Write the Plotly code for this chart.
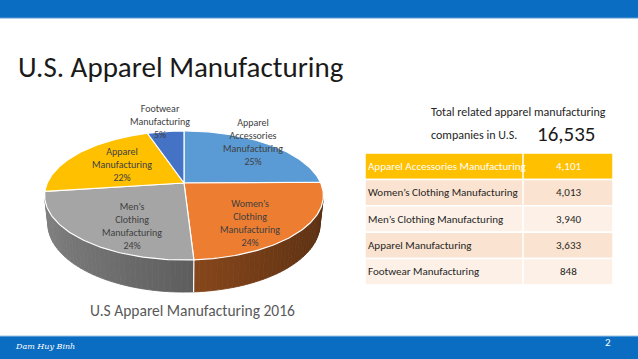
import numpy as np
import plotly.graph_objects as go

# ---------------- data ----------------
categories = ["Apparel Accessories Manufacturing", "Women’s Clothing Manufacturing",
              "Men’s Clothing Manufacturing", "Apparel Manufacturing", "Footwear Manufacturing"]
pie_names = ["Apparel<br>Accessories<br>Manufacturing", "Women’s<br>Clothing<br>Manufacturing",
             "Men’s<br>Clothing<br>Manufacturing", "Apparel<br>Manufacturing", "Footwear<br>Manufacturing"]
values = [4101, 4013, 3940, 3633, 848]
slide_title = "U.S. Apparel Manufacturing"
chart_title = "U.S Apparel Manufacturing 2016"
total_line1 = "Total related apparel manufacturing"
total_line2 = "companies in U.S."
footer_name = "Dam Huy Binh"
page_number = "2"

# ---------------- style ----------------
colors = ["#5B9BD5", "#ED7D31", "#A5A5A5", "#FFC000", "#4472C4"]
FONT = "Carlito, Calibri, Lato, sans-serif"
BLUE = "#0A6DC2"
W, H = 638, 359
CX, CY = 184.0, 183.0
FOC, DIST = 629.0, 4.6
TILT = np.radians(27)
THICK = 0.233
S, C = np.sin(TILT), np.cos(TILT)
label_place = [(7.3, 0.95), (-10.0, 0.71), (10.8, 0.70), (-0.7, 0.57), (0.8, 1.25)]
row_colors = ["#FFC000", "#FAE3D0", "#FDF1E7", "#FAE3D0", "#FDF1E7"]
row_font = ["white", "#262626", "#262626", "#262626", "#262626"]
TBL_X0, TBL_XM, TBL_X1 = 365, 523, 613
TBL_Y0, ROW_H = 153, 26.4


def proj(a, r=1.0, up=0.0):
    a = np.asarray(a, dtype=float)
    X = r * np.cos(a)
    Z = r * np.sin(a)
    v = up * C + Z * S
    w = Z * C - up * S
    k = FOC / (DIST + w)
    return CX + X * k, CY - v * k


def hexrgb(h):
    h = h.lstrip("#")
    return [int(h[i:i + 2], 16) for i in (0, 2, 4)]


def shade(h, f):
    r, g, b = hexrgb(h)
    return "rgb(%d,%d,%d)" % (int(r * f), int(g * f), int(b * f))


fig = go.Figure()
total = sum(values)
bounds = []
a0 = np.pi / 2
for v in values:
    a1 = a0 - 2 * np.pi * v / total
    bounds.append((a0, a1))
    a0 = a1

# ---- sides ----
lim = np.arcsin(1.0 / (DIST * C))
vis_lo, vis_hi = -np.pi + lim, -lim
for i, (a0, a1) in enumerate(bounds):
    hi = min(a0, vis_hi)
    lo = max(a1, vis_lo)
    if hi <= lo:
        continue
    n = max(2, int((hi - lo) / np.radians(2)))
    edges = np.linspace(hi, lo, n + 1)
    for j in range(n):
        seg = np.linspace(edges[j], edges[j + 1], 4)
        tx, ty = proj(seg)
        bx, by = proj(seg[::-1], up=-THICK)
        am = 0.5 * (edges[j] + edges[j + 1])
        col = shade(colors[i], 0.58 - 0.2 * np.cos(am))
        fig.add_trace(go.Scatter(x=np.r_[tx, bx, tx[:1]], y=np.r_[ty, by, ty[:1]],
                                 mode="lines", fill="toself", fillcolor=col,
                                 line=dict(color=col, width=0.8), hoverinfo="skip",
                                 showlegend=False))
# seam lines on the side
for i, (a0, a1) in enumerate(bounds):
    if vis_lo < a1 < vis_hi:
        x0, y0 = proj(a1)
        x1, y1 = proj(a1, up=-THICK)
        fig.add_trace(go.Scatter(x=[x0, x1], y=[y0, y1], mode="lines",
                                 line=dict(color="white", width=1.2),
                                 hoverinfo="skip", showlegend=False))

# ---- top faces ----
for i, (a0, a1) in enumerate(bounds):
    arc = np.linspace(a0, a1, 80)
    ax, ay = proj(arc)
    xs = np.r_[CX, ax, CX]
    ys = np.r_[CY, ay, CY]
    fig.add_trace(go.Scatter(x=xs, y=ys, mode="lines", fill="toself",
                             fillcolor=colors[i], line=dict(color="white", width=1.2),
                             name=categories[i], hoverinfo="name", showlegend=False))

# ---- pie labels ----
for i, (a0, a1) in enumerate(bounds):
    off, r = label_place[i]
    mid = 0.5 * (a0 + a1) + np.radians(off)
    lx, ly = proj(mid, r=r)
    pct = round(values[i] / total * 100)
    fig.add_annotation(x=float(lx), y=float(ly), xref="x", yref="y",
                       text=f"{pie_names[i]}<br>{pct}%", showarrow=False,
                       font=dict(family=FONT, size=10, color="#404040"),
                       align="center", xanchor="center", yanchor="middle")

# ---- table (rows built from the category/value lists) ----
shapes = []
for i, (cat, val) in enumerate(zip(categories, values)):
    y0 = TBL_Y0 + i * ROW_H
    y1 = y0 + ROW_H
    shapes.append(dict(type="rect", xref="x", yref="y", x0=TBL_X0, x1=TBL_X1, y0=y0, y1=y1,
                       fillcolor=row_colors[i], line=dict(color="white", width=1.5),
                       layer="below"))
    fig.add_annotation(x=TBL_X0 + 1, y=(y0 + y1) / 2, xref="x", yref="y", text=cat,
                       showarrow=False, xanchor="left", yanchor="middle",
                       font=dict(family=FONT, size=11, color=row_font[i]))
    fig.add_annotation(x=(TBL_XM + TBL_X1) / 2, y=(y0 + y1) / 2, xref="x", yref="y",
                       text=f"{val:,}", showarrow=False, xanchor="center", yanchor="middle",
                       font=dict(family=FONT, size=11, color=row_font[i]))
shapes.append(dict(type="line", xref="x", yref="y", x0=TBL_XM, x1=TBL_XM, y0=TBL_Y0,
                   y1=TBL_Y0 + len(values) * ROW_H, line=dict(color="white", width=1.5)))

# ---- texts ----
fig.add_annotation(x=16, y=67, xref="x", yref="y", text=slide_title, showarrow=False,
                   xanchor="left", yanchor="middle",
                   font=dict(family=FONT, size=29, color="#1a1a1a", weight=300))
fig.add_annotation(x=192, y=310, xref="x", yref="y", text=chart_title, showarrow=False,
                   xanchor="center", yanchor="middle",
                   font=dict(family=FONT, size=15.5, color="#595959"))
fig.add_annotation(x=429, y=112, xref="x", yref="y", text=total_line1, showarrow=False,
                   xanchor="left", yanchor="middle",
                   font=dict(family=FONT, size=12, color="#262626"))
fig.add_annotation(x=429, y=135, xref="x", yref="y", text=total_line2, showarrow=False,
                   xanchor="left", yanchor="middle",
                   font=dict(family=FONT, size=12, color="#262626"))
fig.add_annotation(x=566, y=134, xref="x", yref="y", text=f"{total:,}", showarrow=False,
                   xanchor="center", yanchor="middle",
                   font=dict(family=FONT, size=21, color="#1a1a1a"))
fig.add_annotation(x=13, y=346, xref="x", yref="y", text=footer_name, showarrow=False,
                   xanchor="left", yanchor="middle",
                   font=dict(family="DejaVu Serif", size=8, color="white", style="italic"))
fig.add_annotation(x=608, y=342, xref="x", yref="y", text=page_number, showarrow=False,
                   xanchor="center", yanchor="middle",
                   font=dict(family=FONT, size=11, color="white"))

# ---- slide bars ----
shapes += [
    dict(type="rect", xref="x", yref="y", x0=0, x1=W, y0=0, y1=18, fillcolor=BLUE,
         line=dict(width=0), layer="below"),
    dict(type="line", xref="x", yref="y", x0=0, x1=W, y0=18, y1=18,
         line=dict(color="#5F9CD3", width=1), layer="below"),
    dict(type="rect", xref="x", yref="y", x0=0, x1=W, y0=336, y1=359, fillcolor=BLUE,
         line=dict(width=0), layer="below"),
    dict(type="line", xref="x", yref="y", x0=0, x1=W, y0=336, y1=336,
         line=dict(color="#9CC3E6", width=1), layer="below"),
]

fig.update_layout(
    width=W, height=H, margin=dict(l=0, r=0, t=0, b=0),
    paper_bgcolor="white", plot_bgcolor="white", shapes=shapes,
    xaxis=dict(range=[0, W], visible=False, domain=[0, 1], fixedrange=True),
    yaxis=dict(range=[H, 0], visible=False, domain=[0, 1], fixedrange=True),
    showlegend=False,
)
fig.write_html("out.html", config={"displayModeBar": False},
               post_script="document.body.style.margin='0px';")
